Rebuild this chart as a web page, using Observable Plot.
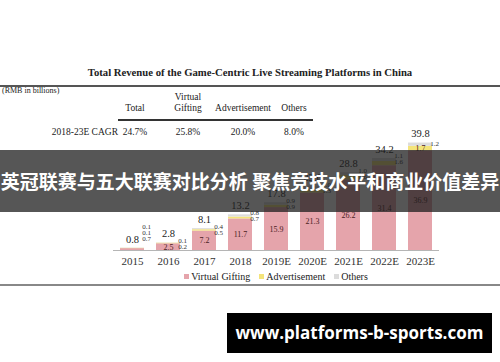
<!DOCTYPE html>
<html>
<head>
<meta charset="utf-8">
<script src="https://cdn.jsdelivr.net/npm/d3@7"></script>
<script src="https://cdn.jsdelivr.net/npm/@observablehq/plot@0.6"></script>
<style>
  html, body { margin: 0; padding: 0; background: #fff; }
  #page { position: relative; width: 500px; height: 362px; overflow: hidden; font-family: "Liberation Serif", serif; color: #222; }
  .abs { position: absolute; white-space: nowrap; }
  #title { left: 0; width: 500px; top: 66px; text-align: center; font-weight: bold; font-size: 10.7px; }
  #titleRule { left: 0; width: 500px; top: 85px; height: 1.5px; background: #555; }
  #unit { left: 2px; top: 86px; font-size: 8px; }
  .th, .td { font-size: 9.5px; transform: translateX(-50%); text-align: center; line-height: 11px; }
  #tableRule { left: 118px; width: 195px; top: 119px; height: 1.5px; background: #333; }
  #rowLabel { right: 382px; top: 127px; font-size: 9.5px; }
  #chart { left: 0; top: 120px; }
  #legend { left: 113px; width: 326px; top: 271px; display: flex; justify-content: center; gap: 9px; font-size: 10px; }
  #legend span.sw { display: inline-block; width: 5px; height: 5px; margin-right: 2px; vertical-align: 1px; }
  #bottomRule { left: 0; width: 500px; top: 284px; height: 1.5px; background: #888; }
  #banner { left: 0; width: 500px; top: 150px; height: 62px; background: rgba(30,30,30,0.75); color: #fff; font-family: "Noto Sans CJK SC", sans-serif; font-weight: bold; font-size: 19px; line-height: 62px; text-align: center; }
  #watermark { left: 227px; top: 313px; width: 265px; height: 40px; background: #000; color: #fff; font-family: "Open Sans", sans-serif; font-weight: bold; font-size: 17px; line-height: 40px; text-align: center; }
</style>
</head>
<body>
<div id="page"></div>
<script>
// ---- data ----
const chartTitle = "Total Revenue of the Game-Centric Live Streaming Platforms in China";
const unitLabel = "(RMB in billions)";
const years = ["2015", "2016", "2017", "2018", "2019E", "2020E", "2021E", "2022E", "2023E"];
const virtualGifting = [0.7, 2.5, 7.2, 11.7, 15.9, 21.3, 26.2, 31.4, 36.9];
const advertisement = [0.1, 0.2, 0.5, 0.7, 0.9, 1.3, 1.6, 1.6, 1.7];
const others = [0.1, 0.1, 0.4, 0.8, 0.9, 1.0, 1.0, 1.1, 1.2];
const totals = [0.8, 2.8, 8.1, 13.2, 17.8, 23.6, 28.8, 34.2, 39.8];
const seriesNames = ["Virtual Gifting", "Advertisement", "Others"];
const seriesColors = ["#e5a4ab", "#f4e47a", "#dcdcdc"];
const tableHeaders = [["Total"], ["Virtual", "Gifting"], ["Advertisement"], ["Others"]];
const cagrLabel = "2018-23E CAGR";
const cagrValues = ["24.7%", "25.8%", "20.0%", "8.0%"];
const bannerText = "英冠联赛与五大联赛对比分析 聚焦竞技水平和商业价值差异";
const watermarkText = "www.platforms-b-sports.com";

// ---- page furniture ----
const page = document.getElementById("page");
function add(id, cls, text, style) {
  const d = document.createElement("div");
  if (id) d.id = id;
  d.className = "abs " + (cls || "");
  if (text != null) d.textContent = text;
  if (style) Object.assign(d.style, style);
  page.appendChild(d);
  return d;
}
add("title", "", chartTitle);
add("titleRule");
add("unit", "", unitLabel);
const colX = [135, 188, 243, 294];
tableHeaders.forEach((lines, i) => {
  const d = add(null, "th", null, { left: colX[i] + "px", top: (lines.length === 2 ? 92 : 103) + "px" });
  d.innerHTML = lines.join("<br>");
});
add("tableRule");
add("rowLabel", "", cagrLabel);
cagrValues.forEach((v, i) => add(null, "td", v, { left: colX[i] + "px", top: "127px" }));

// ---- chart data ----
const seriesValues = [virtualGifting, advertisement, others];
const stacked = [];
seriesNames.forEach((s, i) => years.forEach((y, j) => stacked.push({ year: y, series: s, value: seriesValues[i][j] })));

const yMax = 45, plotH = 150, mTop = 8.5, mBottom = 20;
const pxPerUnit = (plotH - mTop - mBottom) / yMax;

const inside = [];
const side = [];
years.forEach((y, j) => {
  let base = 0;
  const outs = [];
  seriesValues.forEach((vals, i) => {
    const v = vals[j];
    const isInside = (i === 0 && v >= 1) || (i === 1 && v >= 1.7);
    if (isInside) inside.push({ year: y, y: base + v / 2, text: v.toFixed(1), series: seriesNames[i] });
    else outs.push(v.toFixed(1));
    base += v;
  });
  outs.reverse(); // top to bottom: others, adv, gifting
  const n = outs.length;
  const shift = n > 2 ? -14 : (n === 1 ? -3 : 0);
  outs.forEach((t, k) => {
    const offPx = 4 - (n - 1 - k) * 6 + shift; // downwards px
    side.push({ year: y, y: totals[j] - offPx / pxPerUnit, text: t });
  });
});
const totalData = years.map((y, j) => ({ year: y, total: totals[j] }));

const chart = Plot.plot({
  width: 500,
  height: plotH,
  marginLeft: 113,
  marginRight: 61,
  marginTop: mTop,
  marginBottom: mBottom,
  style: { fontFamily: "Liberation Serif, serif", background: "transparent", color: "#222", overflow: "visible" },
  x: { domain: years, paddingInner: 0.33, paddingOuter: 0.165, label: null },
  y: { domain: [0, yMax], axis: null },
  color: { domain: seriesNames, range: seriesColors },
  marks: [
    Plot.barY(stacked, { x: "year", y: "value", fill: "series" }),
    Plot.ruleY([0], { stroke: "#b5b5b5", strokeWidth: 1.2 }),
    Plot.axisX({ tickSize: 0, tickPadding: 7, fontSize: 11, fill: "#333" }),
    Plot.text(totalData, { x: "year", y: "total", text: d => d.total.toFixed(1), dy: -9, fontSize: 10.5, fill: "#222" }),
    Plot.text(inside, { x: "year", y: "y", text: "text", fontSize: 8, fill: "#4a1c22" }),
    Plot.text(side, { x: "year", y: "y", text: "text", dx: 14, fontSize: 7, fill: "#333" })
  ]
});
const wrap = add("chart");
wrap.appendChild(chart);

// legend
const legend = add("legend");
seriesNames.forEach((s, i) => {
  const item = document.createElement("div");
  item.innerHTML = `<span class="sw" style="background:${seriesColors[i]}"></span>${s}`;
  legend.appendChild(item);
});
add("bottomRule");
add("banner", "", bannerText);
add("watermark", "", watermarkText);
</script>
</body>
</html>
